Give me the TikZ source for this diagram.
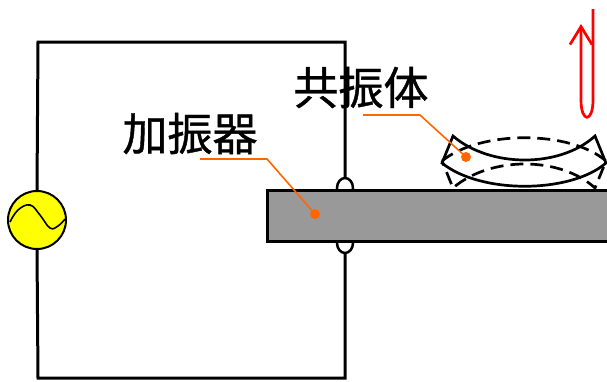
\documentclass[tikz,border=0pt]{standalone}
\usepackage{fontspec}
\newfontfamily\cjkfont[FakeBold=0.9]{Noto Sans CJK JP}
\usetikzlibrary{arrows.meta}
\definecolor{leader}{RGB}{255,102,0}
\definecolor{bargray}{RGB}{153,153,153}
\definecolor{srcyellow}{RGB}{255,255,0}
\tikzset{
  wire/.style={line width=3pt, line join=miter},
  loopwire/.style={line width=2.5pt},
  barbox/.style={line width=3pt, fill=bargray},
  beam/.style={line width=2.7pt, line join=miter},
  beamdash/.style={beam, dash pattern=on 13pt off 7pt},
  leaderline/.style={leader, line width=1.6pt},
  leaderdot/.style={circle, fill=leader, inner sep=0pt, minimum size=10pt},
  label/.style={font=\cjkfont\fontsize{45pt}{50pt}\selectfont, inner sep=0pt, anchor=base},
  motion/.style={red, line width=2.7pt, -{Straight Barb[length=18pt, width=22pt, line width=2.7pt]}},
}
\begin{document}
\begin{tikzpicture}[x=1pt, y=-1pt]
\useasboundingbox (0,0) rectangle (607,381);

% circuit wiring
\coordinate (tl) at (38,42);
\coordinate (tr) at (345,42);
\coordinate (bl) at (38,378);
\coordinate (br) at (345,378);
\node[circle, draw, line width=2pt, fill=srcyellow, minimum size=58pt, inner sep=0pt] (src) at (37,220) {};
\draw[wire] (src.north) -- (tl) -- (tr) -- (345,178);
\draw[wire] (345,253) -- (br) -- (bl) -- (src.south);
\draw[line width=1.6pt] plot[smooth, tension=0.7] coordinates {(10,222) (18,210) (30,205) (40,215) (50,228) (58,226) (65,219)};

% wire loops around the bar
\draw[loopwire] (345,188) ellipse [x radius=8, y radius=10];
\draw[loopwire] (345,243) ellipse [x radius=8, y radius=10];

% vibrating bar
\draw[barbox] (267,190) rectangle (612,241);
\node[leaderdot] (bardot) at (315,214) {};

% resonator: bent shape (solid) and its opposite phase (dashed)
\draw[beam] (453,136) .. controls (490,168) and (560,168) .. (595,136)
  -- (606,163) .. controls (570,194) and (480,194) .. (442,163) -- cycle;
\draw[beamdash] (442,161) .. controls (480,130) and (570,130) .. (606,161)
  -- (595,188) .. controls (560,156) and (490,156) .. (453,188) -- cycle;
\node[leaderdot] (resdot) at (466,157) {};

% labels with leader lines
\node[label] (exciter) at (190,150.5) {加振器};
\node[label] (resonator) at (361,104.5) {共振体};
\coordinate (exa) at (200,159);
\coordinate (exb) at (267,159);
\coordinate (rea) at (363,115);
\coordinate (reb) at (420,115);
\draw[leaderline] (exa) -- (exb) -- (bardot.center);
\draw[leaderline] (rea) -- (reb) -- (resdot.center);

% motion arrow
\coordinate (mstart) at (593,9);
\coordinate (mtip) at (581,24);
\draw[motion] (mstart) -- (593,100) .. controls (593,123) and (581,123) .. (581,100) -- (mtip);
\end{tikzpicture}
\end{document}
